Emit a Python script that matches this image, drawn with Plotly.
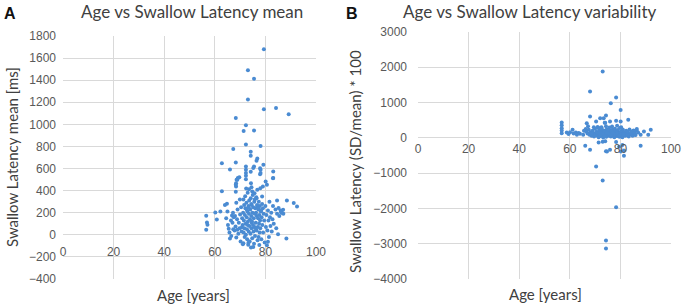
import plotly.graph_objects as go

# ---------------- Panel A data: Age vs Swallow Latency mean ----------------
age_a = [
    79.4, 73.1, 75.5, 73.1, 79.4, 84.2, 89.2, 68.3, 72.3, 71.4, 75.5, 72.3, 78.1, 67.3,
    74.2, 74.2, 62.8, 68.3, 79.2, 76.5, 76.8, 66.0, 72.3, 72.3, 75.2, 78.1, 83.1, 74.2,
    72.3, 69.1, 68.6, 68.3, 83.1, 78.1, 72.3, 72.3, 62.8, 75.5, 77.9, 77.9, 69.7, 68.9,
    68.4, 68.4, 83.0, 80.1, 80.6, 79.0, 74.3, 74.5, 73.5, 74.8, 75.7, 76.8, 78.0, 78.7,
    76.5, 64.8, 62.2, 60.2, 60.8, 56.6, 56.9, 57.1, 56.6, 84.6, 88.5, 91.2, 92.5, 87.0,
    86.2, 87.1, 85.2, 88.3, 66.0, 71.3, 75.2, 77.6, 81.0, 73.3, 67.3, 68.9, 70.7,
    64.5, 65.2, 65.5, 65.8, 66.4, 66.8, 67.2, 67.0, 66.5, 67.5, 67.8, 64.0, 65.0,
    68.0, 68.2, 68.5, 68.8, 69.0, 69.3, 69.5, 69.8, 70.0, 70.2, 70.4, 70.6, 70.8, 68.3, 68.5, 69.9,
    71.0, 71.1, 71.2, 71.3, 71.4, 71.5, 71.6, 71.7, 71.8, 71.9, 72.0, 72.1, 72.2, 72.3, 72.4,
    72.5, 72.6, 72.7, 72.8, 72.9, 73.0, 73.1, 73.2, 73.3, 73.4, 73.5, 73.6, 73.7, 73.8, 73.9,
    74.0, 74.1, 74.2, 74.3, 74.4, 74.5, 74.6, 74.7, 74.8, 74.9, 75.0, 75.1, 75.2, 75.3, 75.4,
    75.5, 75.6, 75.7, 75.8, 75.9, 76.0, 76.2, 76.4, 76.5, 76.6, 76.8, 76.9, 76.3,
    77.0, 77.1, 77.2, 77.3, 77.4, 77.5, 77.6, 77.7, 77.8, 77.9, 78.0, 78.2, 78.4, 78.5, 78.7,
    78.8, 79.0, 79.1, 79.3, 79.5, 79.7,
    80.0, 80.2, 80.4, 80.6, 80.8, 81.0, 81.2, 81.4, 81.6, 81.8, 82.0, 82.3, 82.5, 82.8, 83.0, 83.3,
    84.0, 84.3, 84.6, 85.0, 85.5, 86.0, 86.5,
    72.6, 73.4, 74.4, 75.8, 76.7, 77.3, 78.3, 73.0, 74.6, 76.1,
]
mean_a = [
    1680, 1490, 1412, 1226, 1136, 1148, 1091, 1058, 992, 940, 944, 817, 805, 778,
    751, 715, 649, 655, 634, 670, 691, 592, 619, 589, 604, 589, 574, 571,
    559, 514, 499, 454, 514, 559, 534, 504, 394, 618, 603, 549, 522, 498,
    468, 438, 513, 483, 453, 438, 468, 431, 413, 392, 377, 407, 422, 347,
    332, 281, 212, 203, 138, 172, 112, 91, 45, 311, 311, 287, 257, 227,
    203, 191, 242, -34, -34, -77, -110, -92, -62, -71, 51, 45, 69,
    150, 90, 55, 20, 130, 175, 200, 110, -10, 160, 40, 270, 210,
    170, 75, -25, 140, 230, 10, 110, 60, 185, -60, 250, 30, 150, 390, 290, 320,
    90, -85, 200, 320, 20, 130, 270, 60, -20, 180, 350, 240, 100, 0, 420,
    290, 160, 50, -40, 210, 380, 120, -90, 260, 30, 190, 310, 80, -60, 140,
    230, 10, 330, -115, 170, 60, 270, 120, -30, 200, 360, 90, 250, 30, 150,
    -80, 300, 70, 190, -10, 240, 110, 340, 40, 170, 260, -50, 200,
    70, 150, 230, -20, 300, 100, 180, 20, 260, 130, 60, 210, -40, 160, 280,
    90, 240, 20, 190, 130, -70,
    260, 70, 180, -95, 40, 220, 130, -20, 300, 160, 80, 200, 30, 140, 260, 100,
    230, 60, 190, 5, 170, 220, 200,
    230, 250, 280, 320, 270, 240, 220, 90, 110, 60,
]

# ---------------- Panel B data: Age vs Swallow Latency variability ----------------
age_b = [
    73.0, 68.0, 78.3, 76.2, 80.1, 68.0, 72.0, 73.4, 74.3, 75.9, 78.3, 83.1, 80.1, 74.0,
    73.8, 70.4, 66.7, 56.8, 56.8, 56.8, 56.8, 56.8, 61.1, 60.1, 62.4, 64.0, 65.3,
    86.4, 89.3, 91.0, 92.0, 88.0, 88.0, 66.1, 68.0, 71.4, 73.0, 74.0, 75.9, 74.3,
    78.3, 79.5, 80.2, 80.8, 70.4, 73.0, 78.3, 74.3, 74.3, 74.7, 81.4, 81.4,
    66.5, 67.0, 67.5, 67.8, 68.2, 68.6, 69.0, 69.3, 69.6, 70.0, 70.2, 70.5, 70.8, 71.0,
    71.2, 71.4, 71.6, 71.8, 72.0, 72.2, 72.4, 72.6, 72.8, 73.0, 73.2, 73.4, 73.6, 73.8,
    74.0, 74.2, 74.4, 74.6, 74.8, 75.0, 75.2, 75.4, 75.6, 75.8, 76.0, 76.2, 76.4, 76.6,
    76.8, 77.0, 77.2, 77.4, 77.6, 77.8, 78.0, 78.2, 78.4, 78.6, 78.8, 79.0, 79.2, 79.4,
    79.6, 79.8, 80.0, 80.2, 80.4, 80.6, 80.8, 81.0, 81.3, 81.6, 82.0, 82.3, 82.6, 83.0,
    83.3, 83.6, 84.0, 84.4, 84.8, 85.2, 85.6, 86.0, 86.5, 87.0,
    72.1, 72.9, 73.3, 73.7, 74.1, 74.5, 74.9, 75.3, 75.7, 76.1, 76.5, 76.9, 77.3, 77.7,
    78.1, 78.5, 78.9, 79.3, 79.7, 80.1, 80.5, 72.5, 74.3, 76.7, 78.7, 80.3, 71.5, 69.5,
    67.2, 66.3, 65.6, 63.5, 62.8, 61.5, 59.5, 58.8,
    72.3, 73.1, 73.9, 74.7, 75.5, 76.3, 77.1, 77.9, 78.7, 79.5, 81.2, 82.8, 84.2, 85.8,
]
cv_b = [
    1878, 1312, 1142, 983, 793, 603, 558, 558, 632, 462, 482, 510, 462, 430,
    430, 462, 416, 434, 359, 274, 208, 132, 227, 160, 151, 113, 85,
    207, 179, 85, 227, 85, -227, -227, -340, -132, -113, -95, -340, -378,
    -120, -250, -390, -200, -812, -1209, -1964, -2908, -3135, -387, -359, -510,
    180, 120, 230, 90, 160, 60, 200, 130, 40, 260, 110, 170, 70, 310,
    140, 20, 220, 90, 180, 50, 130, 250, 80, 160, 10, 210, 110, 60,
    190, 140, 30, 240, 100, 170, 60, 130, 290, 90, 200, 40, 150, 110,
    230, 70, 180, 120, 20, 260, 140, 80, 190, 50, 130, 220, 100, 160,
    30, 280, 120, 70, 190, 140, 20, 230, 90, 160, 60, 200, 110, 150,
    40, 240, 100, 180, 60, 210, 120, 80, 250, 150,
    120, 140, 100, 170, 90, 150, 120, 200, 140, 110, 170, 130, 90, 150,
    110, 160, 70, 130, 100, 150, 110, 300, 330, 320, 340, 300, 280, 300,
    330, 250, 200, 140, 90, 120, 110, 150,
    80, 110, 60, 130, 100, 70, 140, 90, 120, 60, 100, 80, 130, 90,
]

x_ticks = [0, 20, 40, 60, 80, 100]

W, H = 686, 306

def px_x(p):
    return p / W

def px_y(p):
    return 1 - p / H

blue = "#4a8bd2"
grid = "#d9d9d9"
tick_font = dict(family="Liberation Sans, Arial, sans-serif", size=12, color="#595959")
title_font = dict(family="Lato, Open Sans, sans-serif", size=17, color="#404040")
axt_font = dict(family="Lato, Open Sans, sans-serif", size=15, color="#404040")
panel_font = dict(family="Liberation Sans, Arial", size=16, color="#111")

fig = go.Figure()
fig.add_trace(go.Scatter(x=age_a, y=mean_a, mode="markers", xaxis="x", yaxis="y",
                         marker=dict(size=4, color=blue), hoverinfo="x+y", showlegend=False))
fig.add_trace(go.Scatter(x=age_b, y=cv_b, mode="markers", xaxis="x2", yaxis="y2",
                         marker=dict(size=4, color=blue), hoverinfo="x+y", showlegend=False))

# Panel geometry (pixels)
a_l, a_r, a_t, a_b = 63, 316, 36, 279
b_l, b_r, b_t, b_b = 418, 671, 32, 279
a_min, a_max = -400, 1800
b_min, b_max = -4000, 3000
a_zero = (0 - a_min) / (a_max - a_min)
b_zero = (0 - b_min) / (b_max - b_min)
a_dom = [px_y(a_b), px_y(a_t)]
b_dom = [px_y(b_b), px_y(b_t)]

common_x = dict(range=[0, 100], tickvals=x_ticks, showgrid=True, gridcolor=grid, gridwidth=1,
                zeroline=False, showline=False, ticks="", tickfont=tick_font, fixedrange=True)
fig.update_layout(
    width=W, height=H,
    margin=dict(l=0, r=0, t=0, b=0, autoexpand=False),
    paper_bgcolor="white", plot_bgcolor="white",
    xaxis=dict(domain=[px_x(a_l), px_x(a_r)], anchor="free",
               position=a_dom[0] + a_zero * (a_dom[1] - a_dom[0]),
               ticklabelstandoff=8, **common_x),
    yaxis=dict(domain=a_dom, anchor="x", range=[a_min, a_max], dtick=200,
               showgrid=True, gridcolor=grid, zeroline=False, showline=False, ticks="",
               tickfont=tick_font, ticklabelstandoff=6),
    xaxis2=dict(domain=[px_x(b_l), px_x(b_r)], anchor="free",
                position=b_dom[0] + b_zero * (b_dom[1] - b_dom[0]),
                ticklabelstandoff=2, **common_x),
    yaxis2=dict(domain=b_dom, anchor="x2", range=[b_min, b_max], dtick=1000,
                showgrid=True, gridcolor=grid, zeroline=False, showline=False, ticks="",
                tickfont=tick_font, ticklabelstandoff=10),
)

ann = []
def add(text, x, y, font, angle=0):
    ann.append(dict(text=text, x=px_x(x), y=px_y(y), xref="paper", yref="paper",
                    showarrow=False, font=font, textangle=angle,
                    xanchor="center", yanchor="middle"))

add("<b>A</b>", 10, 14, panel_font)
add("<b>B</b>", 352, 14, panel_font)
add("Age vs Swallow Latency mean", 192, 12, title_font)
add("Age vs Swallow Latency variability", 530, 12, title_font)
add("Swallow Latency mean [ms]", 12, 157, axt_font, angle=-90)
add("Swallow Latency (SD/mean) * 100", 355, 162, axt_font, angle=-90)
add("Age [years]", 193, 295, axt_font)
add("Age [years]", 545, 294, axt_font)
fig.update_layout(annotations=ann)

fig.write_html("out.html", config={"displayModeBar": False},
               post_script="document.body.style.margin='0';document.body.style.overflow='hidden';")
